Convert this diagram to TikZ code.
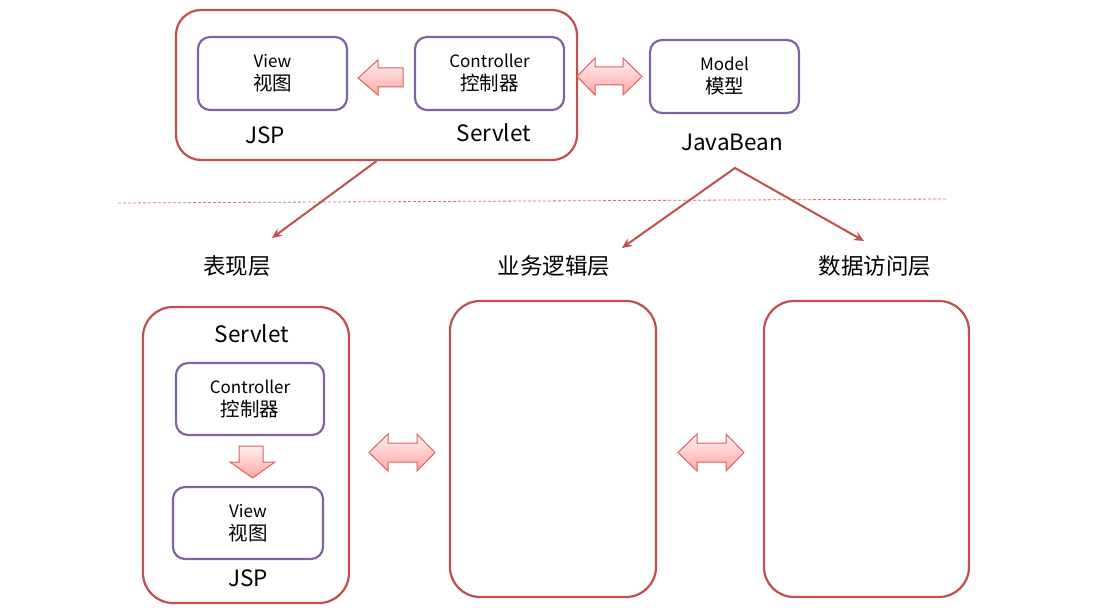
\documentclass[tikz,border=0pt]{standalone}
\usepackage{fontspec}
\setmainfont{Noto Sans CJK SC}
\usetikzlibrary{arrows.meta}
\definecolor{boxred}{HTML}{C0504D}
\definecolor{boxpurple}{HTML}{8064A2}
\definecolor{arrowedge}{HTML}{D9635F}
\definecolor{dashred}{HTML}{D87070}
\newcommand{\cjkline}[1]{{\fontsize{19.5}{23}\selectfont #1}}
\begin{document}
\begin{tikzpicture}[x=1pt,y=-1pt,
 outerbox/.style={draw=boxred, line width=2.2pt, rounded corners=25pt, inner sep=0pt},
 innerbox/.style={draw=boxpurple, line width=2.2pt, rounded corners=12pt, align=center, font=\fontsize{17}{23}\selectfont, inner sep=0pt},
 lbl/.style={font=\fontsize{22.5}{24}\selectfont, inner sep=0pt},
 link/.style={draw=boxred, line width=2pt},
 blockarrow/.style={draw=arrowedge, line width=1pt, top color=red!6, bottom color=red!35, line join=miter},
]
\useasboundingbox[fill=white] (0,0) rectangle (1114,612);

% ---------- top part ----------
\node[outerbox, minimum width=401pt, minimum height=150pt] (top) at (376.5,85) {};
\node[innerbox, minimum width=149pt, minimum height=73pt] (view1) at (272.5,73.5) {View\\\cjkline{视图}};
\node[innerbox, minimum width=149pt, minimum height=73pt] (ctrl1) at (489.5,73.5) {Controller\\\cjkline{控制器}};
\node[lbl] (jsp1) at (265,135) {JSP};
\node[lbl] (servlet1) at (494,133) {Servlet};
\node[innerbox, minimum width=149pt, minimum height=73pt] (model) at (724.5,76.5) {Model\\\cjkline{模型}};
\node[lbl] (javabean) at (732,142) {JavaBean};

% block arrows top
\path[blockarrow] (358,78) -- (378,60) -- (378,68) -- (403,68) -- (403,87) -- (378,87) -- (378,95) -- cycle;
\path[blockarrow] (577,76.5) -- (595,58) -- (595,67) -- (623,67) -- (623,58) -- (642,76.5) -- (623,95) -- (623,85) -- (595,85) -- (595,95) -- cycle;

% dashed separator
\coordinate (d1) at (118,203);
\coordinate (d2) at (946,199);
\draw[dashred, line width=0.8pt, dash pattern=on 3pt off 2pt] (d1) -- (d2);

% layer labels
\node[lbl] (pres) at (237,266) {表现层};
\node[lbl] (biz) at (554,266) {业务逻辑层};
\node[lbl] (data) at (875,266) {数据访问层};

% connectors
\coordinate (e1) at (272,238);
\coordinate (jb) at (735,168);
\coordinate (e2) at (622,248);
\coordinate (e3) at (864,241);
\draw[link, -{Stealth[length=10pt,width=9pt]}] (top.south) -- (e1);
\draw[link, line join=miter, {Stealth[length=10pt,width=9pt]}-{Stealth[length=10pt,width=9pt]}] (e2) -- (jb) -- (e3);

% ---------- bottom part ----------
\node[outerbox, rounded corners=30pt, minimum width=206pt, minimum height=296pt] (presbox) at (246,455) {};
\node[outerbox, rounded corners=30pt, minimum width=206pt, minimum height=296pt] (bizbox) at (553,449) {};
\node[outerbox, rounded corners=30pt, minimum width=205pt, minimum height=296pt] (databox) at (866.5,449) {};

\node[lbl] (servlet2) at (252,334) {Servlet};
\node[innerbox, minimum width=148pt, minimum height=72pt] (ctrl2) at (250,399) {Controller\\\cjkline{控制器}};
\node[innerbox, minimum width=150pt, minimum height=72pt] (view2) at (248,523) {View\\\cjkline{视图}};
\node[lbl] (jsp2) at (248,578) {JSP};

% block arrows bottom
\path[blockarrow] (239,446) -- (263,446) -- (263,462) -- (275,462) -- (252.5,478) -- (230,462) -- (239,462) -- cycle;
\path[blockarrow] (369,452.5) -- (388,434) -- (388,443) -- (417,443) -- (417,434) -- (435,452.5) -- (417,471) -- (417,462) -- (388,462) -- (388,471) -- cycle;
\path[blockarrow] (678,452.5) -- (697,434) -- (697,443) -- (726,443) -- (726,434) -- (744,452.5) -- (726,471) -- (726,462) -- (697,462) -- (697,471) -- cycle;
\end{tikzpicture}
\end{document}
